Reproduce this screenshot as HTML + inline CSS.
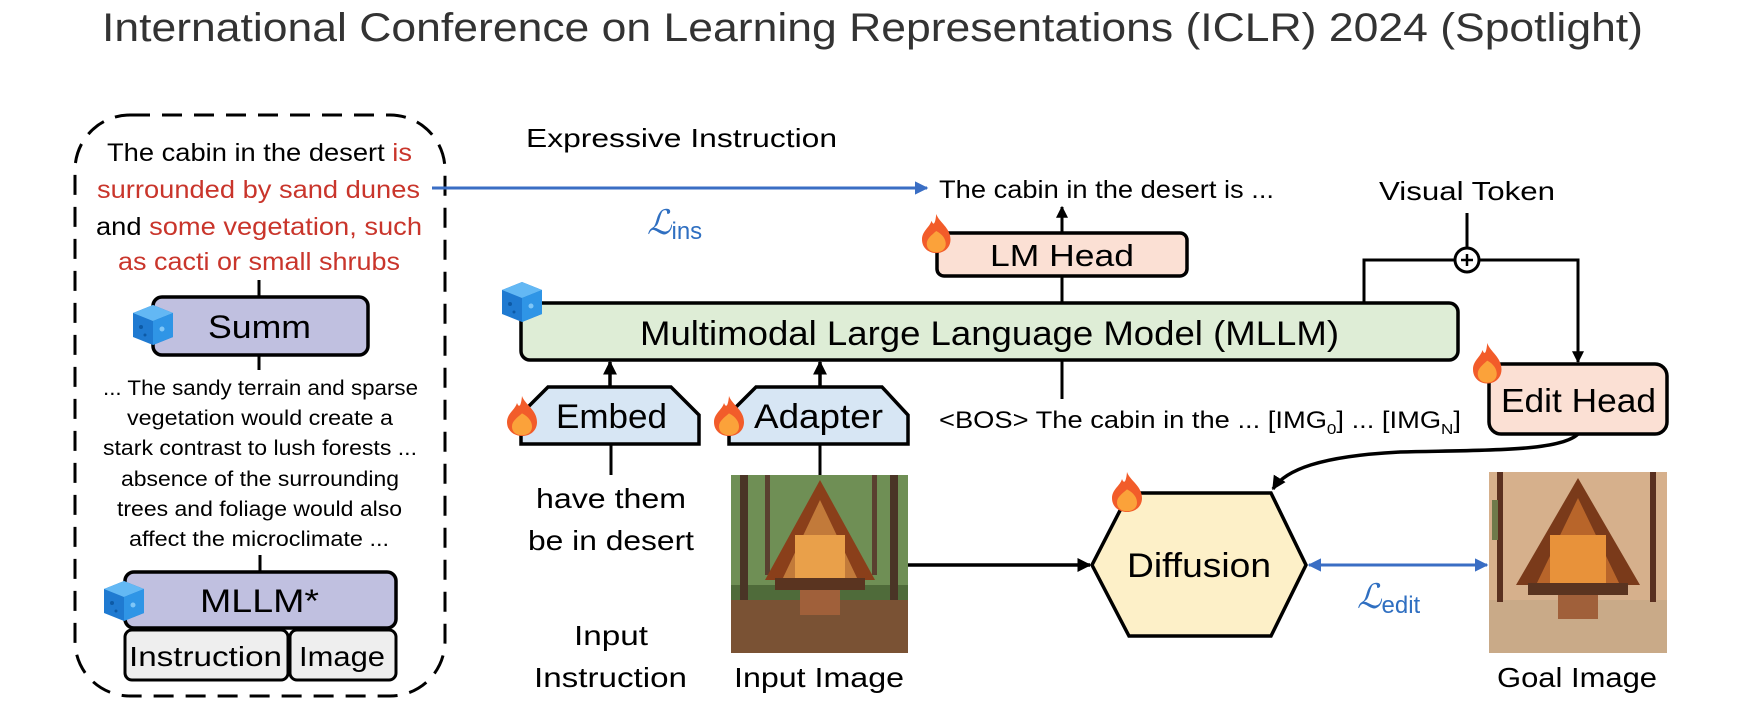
<!DOCTYPE html>
<html><head><meta charset="utf-8"><style>
html,body{margin:0;padding:0;background:#fff;}
svg{display:block;}
text{font-family:"Liberation Sans",sans-serif;}
</style></head><body>
<svg width="1738" height="718" viewBox="0 0 1738 718" xmlns="http://www.w3.org/2000/svg">
<defs>
<marker id="ab" viewBox="0 0 10 10" refX="9" refY="5" markerWidth="4" markerHeight="4" orient="auto-start-reverse"><path d="M0,0L10,5L0,10z" fill="#000"/></marker>
<marker id="ablue" viewBox="0 0 10 10" refX="9" refY="5" markerWidth="4.5" markerHeight="4.5" orient="auto-start-reverse"><path d="M0,0L10,5L0,10z" fill="#3a6ec4"/></marker>
<g id="flame"><path d="M15,0 C18,10 30,16 30,30 C30,40 23,46 15,46 C7,46 0,40 0,30 C0,20 8,16 10,8 C12,14 14,12 15,0Z" fill="#f25c2a"/><path d="M15,20 C22,24 25,30 25,35 C25,42 20,45 15,45 C10,45 5,42 5,35 C5,29 10,25 15,20Z" fill="#fba23a"/></g>
<g id="cube"><path d="M20,0 L40,8 L40,32 L20,40 L0,32 L0,8Z" fill="#1f7ad1"/><path d="M0,8 L20,0 L40,8 L20,16Z" fill="#63b8f4"/><path d="M20,16 L40,8 L40,32 L20,40Z" fill="#2f95e6"/><circle cx="8" cy="22" r="2" fill="#0d5aa6"/><circle cx="29" cy="24" r="2.5" fill="#7fc6f7"/><circle cx="12" cy="30" r="1.5" fill="#0d5aa6"/></g>
</defs>

<text x="102" y="41" font-size="40" fill="#333" textLength="1541" lengthAdjust="spacingAndGlyphs">International Conference on Learning Representations (ICLR) 2024 (Spotlight)</text>

<!-- dashed box -->
<rect x="75" y="115" width="370" height="581" rx="55" fill="none" stroke="#000" stroke-width="3" stroke-dasharray="20,12"/>
<g font-size="25">
<text x="107" y="161" textLength="305" lengthAdjust="spacingAndGlyphs"><tspan fill="#000">The cabin in the desert </tspan><tspan fill="#c9352b">is</tspan></text>
<text x="97" y="198" fill="#c9352b" textLength="323" lengthAdjust="spacingAndGlyphs">surrounded by sand dunes</text>
<text x="96" y="235" textLength="326" lengthAdjust="spacingAndGlyphs"><tspan fill="#000">and </tspan><tspan fill="#c9352b">some vegetation, such</tspan></text>
<text x="118" y="270" fill="#c9352b" textLength="282" lengthAdjust="spacingAndGlyphs">as cacti or small shrubs</text>
</g>
<line x1="259" y1="280" x2="259" y2="370" stroke="#000" stroke-width="3"/>
<rect x="153" y="297" width="215" height="58" rx="9" fill="#c0c0e0" stroke="#000" stroke-width="3.5"/>
<text x="208" y="338" font-size="32" textLength="103" lengthAdjust="spacingAndGlyphs">Summ</text>
<use href="#cube" x="133" y="305"/>
<g font-size="21">
<text x="103" y="395" textLength="315" lengthAdjust="spacingAndGlyphs">... The sandy terrain and sparse</text>
<text x="127" y="425" textLength="266" lengthAdjust="spacingAndGlyphs">vegetation would create a</text>
<text x="103" y="455" textLength="314" lengthAdjust="spacingAndGlyphs">stark contrast to lush forests ...</text>
<text x="121" y="486" textLength="278" lengthAdjust="spacingAndGlyphs">absence of the surrounding</text>
<text x="117" y="516" textLength="285" lengthAdjust="spacingAndGlyphs">trees and foliage would also</text>
<text x="129" y="546" textLength="260" lengthAdjust="spacingAndGlyphs">affect the microclimate ...</text>
</g>
<line x1="260" y1="555" x2="260" y2="572" stroke="#000" stroke-width="3"/>
<rect x="125" y="572" width="271" height="56" rx="9" fill="#c0c0e0" stroke="#000" stroke-width="3.5"/>
<text x="200" y="612" font-size="32" textLength="119" lengthAdjust="spacingAndGlyphs">MLLM*</text>
<use href="#cube" x="104" y="581"/>
<rect x="125" y="630" width="163" height="50" rx="7" fill="#eeeeee" stroke="#000" stroke-width="3"/>
<rect x="290" y="630" width="106" height="50" rx="7" fill="#eeeeee" stroke="#000" stroke-width="3"/>
<text x="129" y="666" font-size="28" textLength="153" lengthAdjust="spacingAndGlyphs">Instruction</text>
<text x="299" y="666" font-size="28" textLength="86" lengthAdjust="spacingAndGlyphs">Image</text>

<!-- expressive instruction -->
<text x="526" y="147" font-size="26" textLength="311" lengthAdjust="spacingAndGlyphs">Expressive Instruction</text>
<line x1="432" y1="188" x2="927" y2="188" stroke="#3a6ec4" stroke-width="3" marker-end="url(#ablue)"/>
<text x="647" y="234" font-size="34" fill="#2f6fc1" font-family="Liberation Serif" font-style="italic">ℒ<tspan font-size="24" font-style="normal" dy="5">ins</tspan></text>
<text x="939" y="198" font-size="25" textLength="335" lengthAdjust="spacingAndGlyphs">The cabin in the desert is ...</text>

<!-- LM head -->
<line x1="1062" y1="233" x2="1062" y2="207" stroke="#000" stroke-width="3" marker-end="url(#ab)"/>
<line x1="1062" y1="276" x2="1062" y2="304" stroke="#000" stroke-width="3"/>
<rect x="937" y="233" width="250" height="43" rx="7" fill="#fbe0d4" stroke="#000" stroke-width="3.5"/>
<text x="990" y="266" font-size="31" textLength="144" lengthAdjust="spacingAndGlyphs">LM Head</text>
<use href="#flame" x="922" y="214" transform="translate(922,214) scale(0.95,0.85) translate(-922,-214)"/>

<!-- MLLM -->
<rect x="521" y="303" width="937" height="57" rx="9" fill="#deedd6" stroke="#000" stroke-width="3.5"/>
<text x="640" y="345" font-size="34" textLength="699" lengthAdjust="spacingAndGlyphs">Multimodal Large Language Model (MLLM)</text>
<use href="#cube" x="502" y="282"/>
<line x1="1062" y1="360" x2="1062" y2="399" stroke="#000" stroke-width="3"/>
<text x="939" y="428" font-size="24" textLength="522" lengthAdjust="spacingAndGlyphs">&lt;BOS&gt; The cabin in the ...  [IMG<tspan font-size="15" dy="6">0</tspan><tspan dy="-6">] ... [IMG</tspan><tspan font-size="15" dy="6">N</tspan><tspan dy="-6">]</tspan></text>

<!-- visual token path -->
<text x="1379" y="200" font-size="26" textLength="176" lengthAdjust="spacingAndGlyphs">Visual Token</text>
<line x1="1467" y1="213" x2="1467" y2="248" stroke="#000" stroke-width="3"/>
<polyline points="1364,303 1364,260 1455,260" fill="none" stroke="#000" stroke-width="3"/>
<polyline points="1479,260 1578,260 1578,362" fill="none" stroke="#000" stroke-width="3" marker-end="url(#ab)"/>
<circle cx="1467" cy="260" r="12" fill="#fff" stroke="#000" stroke-width="3"/>
<line x1="1461" y1="260" x2="1473" y2="260" stroke="#000" stroke-width="2.5"/>
<line x1="1467" y1="254" x2="1467" y2="266" stroke="#000" stroke-width="2.5"/>

<!-- Edit head -->
<rect x="1489" y="364" width="178" height="70" rx="12" fill="#fbe0d4" stroke="#000" stroke-width="3.5"/>
<text x="1501" y="412" font-size="33" textLength="155" lengthAdjust="spacingAndGlyphs">Edit Head</text>
<use href="#flame" transform="translate(1473,343) scale(0.95,0.88)"/>
<path d="M1578,434 C1560,452 1480,450 1400,452 C1320,456 1285,470 1273,489" fill="none" stroke="#000" stroke-width="3.5" marker-end="url(#ab)"/>

<!-- Embed / Adapter -->
<line x1="610" y1="388" x2="610" y2="362" stroke="#000" stroke-width="3.5" marker-end="url(#ab)"/>
<line x1="820" y1="388" x2="820" y2="362" stroke="#000" stroke-width="3.5" marker-end="url(#ab)"/>
<path d="M548,387 L671,387 L699,415 L699,444 L521,444 L521,414Z" fill="#d7e6f4" stroke="#000" stroke-width="3.5"/>
<path d="M756,387 L882,387 L908,415 L908,444 L729,444 L729,414Z" fill="#d7e6f4" stroke="#000" stroke-width="3.5"/>
<text x="556" y="428" font-size="34" textLength="111" lengthAdjust="spacingAndGlyphs">Embed</text>
<text x="754" y="428" font-size="34" textLength="129" lengthAdjust="spacingAndGlyphs">Adapter</text>
<use href="#flame" transform="translate(507,396) scale(1,0.87)"/>
<use href="#flame" transform="translate(714,396) scale(1,0.87)"/>
<line x1="611" y1="444" x2="611" y2="475" stroke="#000" stroke-width="3"/>
<line x1="820" y1="444" x2="820" y2="475" stroke="#000" stroke-width="3"/>
<text x="536" y="508" font-size="28" textLength="150" lengthAdjust="spacingAndGlyphs">have them</text>
<text x="528" y="550" font-size="28" textLength="166" lengthAdjust="spacingAndGlyphs">be in desert</text>
<text x="574" y="645" font-size="28" textLength="74" lengthAdjust="spacingAndGlyphs">Input</text>
<text x="534" y="687" font-size="28" textLength="153" lengthAdjust="spacingAndGlyphs">Instruction</text>
<text x="734" y="687" font-size="28" textLength="170" lengthAdjust="spacingAndGlyphs">Input Image</text>

<!-- input image (forest cabin) -->
<g>
<rect x="731" y="475" width="177" height="178" fill="#4f6b3a"/>
<rect x="731" y="475" width="177" height="110" fill="#6f8f55"/>
<rect x="740" y="475" width="8" height="130" fill="#4a3526"/>
<rect x="890" y="475" width="8" height="130" fill="#4a3526"/>
<rect x="765" y="475" width="5" height="100" fill="#5a4030"/>
<rect x="872" y="475" width="5" height="100" fill="#5a4030"/>
<rect x="731" y="600" width="177" height="53" fill="#7a5234"/>
<path d="M820,480 L875,580 L765,580Z" fill="#8a3f1a"/>
<path d="M820,500 L858,580 L782,580Z" fill="#c27a3a"/>
<rect x="795" y="535" width="50" height="45" fill="#e9a04a"/>
<rect x="775" y="578" width="90" height="12" fill="#5a3420"/>
<rect x="800" y="590" width="40" height="25" fill="#a0603a"/>
</g>
<line x1="908" y1="565" x2="1090" y2="565" stroke="#000" stroke-width="3.5" marker-end="url(#ab)"/>

<!-- Diffusion -->
<path d="M1129,493 L1271,493 L1306,565 L1271,636 L1129,636 L1092,565Z" fill="#fdf0c8" stroke="#000" stroke-width="3.5"/>
<text x="1127" y="577" font-size="34" textLength="144" lengthAdjust="spacingAndGlyphs">Diffusion</text>
<use href="#flame" transform="translate(1112,472) scale(1,0.87)"/>
<line x1="1309" y1="565" x2="1487" y2="565" stroke="#3a6ec4" stroke-width="3" marker-start="url(#ablue)" marker-end="url(#ablue)"/>
<text x="1357" y="608" font-size="34" fill="#2f6fc1" font-family="Liberation Serif" font-style="italic">ℒ<tspan font-size="24" font-style="normal" dy="5">edit</tspan></text>

<!-- goal image (desert cabin) -->
<g>
<rect x="1489" y="472" width="178" height="181" fill="#d6b08c"/>
<rect x="1489" y="600" width="178" height="53" fill="#c9aa88"/>
<rect x="1497" y="472" width="6" height="130" fill="#5a3020"/>
<rect x="1650" y="472" width="6" height="130" fill="#5a3020"/>
<rect x="1492" y="500" width="6" height="40" fill="#6e7a4a"/>
<path d="M1578,478 L1640,585 L1516,585Z" fill="#7a3a1a"/>
<path d="M1578,498 L1620,585 L1536,585Z" fill="#b8652a"/>
<rect x="1550" y="535" width="56" height="50" fill="#e8923a"/>
<rect x="1528" y="583" width="100" height="12" fill="#5a3420"/>
<rect x="1558" y="595" width="40" height="24" fill="#a0603a"/>
</g>
<text x="1497" y="687" font-size="28" textLength="160" lengthAdjust="spacingAndGlyphs">Goal Image</text>
</svg>
</body></html>
